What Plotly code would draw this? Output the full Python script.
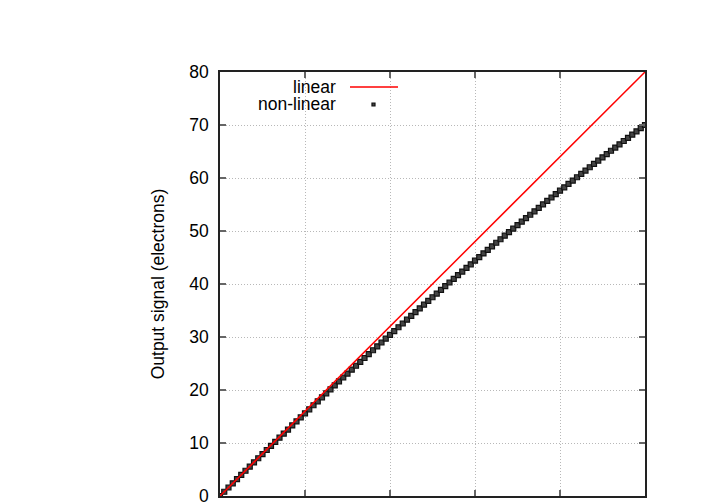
import plotly.graph_objects as go

# Input signal levels (x) and the two series
input_signal = [0, 1, 2, 3, 4, 5, 6, 7, 8, 9, 10, 11, 12, 13, 14, 15, 16, 17, 18, 19,
                20, 21, 22, 23, 24, 25, 26, 27, 28, 29, 30, 31, 32, 33, 34, 35, 36, 37, 38, 39,
                40, 41, 42, 43, 44, 45, 46, 47, 48, 49, 50, 51, 52, 53, 54, 55, 56, 57, 58, 59,
                60, 61, 62, 63, 64, 65, 66, 67, 68, 69, 70, 71, 72, 73, 74, 75, 76, 77, 78, 79,
                80, 81, 82, 83, 84, 85, 86, 87, 88, 89, 90, 91, 92, 93, 94, 95, 96, 97, 98, 99, 100]

nonlinear_output = [0.0, 0.8, 1.6, 2.39, 3.18, 3.98, 4.76, 5.55, 6.34, 7.12,
                    7.9, 8.68, 9.46, 10.23, 11.0, 11.78, 12.54, 13.31, 14.08, 14.84,
                    15.6, 16.36, 17.12, 17.87, 18.62, 19.38, 20.12, 20.87, 21.62, 22.36,
                    23.1, 23.84, 24.58, 25.31, 26.04, 26.78, 27.5, 28.23, 28.96, 29.68,
                    30.4, 31.12, 31.84, 32.55, 33.26, 33.98, 34.68, 35.39, 36.1, 36.8,
                    37.5, 38.2, 38.9, 39.59, 40.28, 40.98, 41.66, 42.35, 43.04, 43.72,
                    44.4, 45.08, 45.76, 46.43, 47.1, 47.78, 48.44, 49.11, 49.78, 50.44,
                    51.1, 51.76, 52.42, 53.07, 53.72, 54.38, 55.02, 55.67, 56.32, 56.96,
                    57.6, 58.24, 58.88, 59.51, 60.14, 60.78, 61.4, 62.03, 62.66, 63.28,
                    63.9, 64.52, 65.14, 65.75, 66.36, 66.98, 67.58, 68.19, 68.8, 69.4, 70.0]

linear_x = [0, 100]
linear_y = [0, 80]

y_ticks = [0, 10, 20, 30, 40, 50, 60, 70, 80]
x_ticks = [0, 20, 40, 60, 80, 100]

font = "Liberation Sans, Arial, sans-serif"
fs = 17.5

fig = go.Figure()
fig.add_trace(go.Scatter(
    x=input_signal, y=nonlinear_output, mode="markers", name="non-linear",
    marker=dict(symbol="square", size=5, color="#444444", line=dict(width=1.2, color="#111111")),
    showlegend=False,
))
fig.add_trace(go.Scatter(
    x=linear_x, y=linear_y, mode="lines", name="linear",
    line=dict(color="#ff0000", width=1.5), showlegend=False,
))

axis_common = dict(
    showline=True, linecolor="#222222", linewidth=1.5, mirror="allticks",
    ticks="inside", ticklen=6, tickwidth=1.5, tickcolor="#666666",
    showgrid=True, gridcolor="#b8b8b8", griddash="1px,2px", gridwidth=1,
    zeroline=False,
)

fig.update_xaxes(range=[0, 100], tickvals=x_ticks, showticklabels=False, **axis_common)
fig.update_yaxes(range=[0, 80], tickvals=y_ticks,
                 tickfont=dict(family=font, size=fs, color="black"),
                 ticklabelstandoff=6,
                 title=dict(text="Output signal (electrons)", font=dict(family=font, size=fs, color="black"),
                            standoff=20),
                 **axis_common)

# gnuplot-style key (text left, sample right)
fig.add_annotation(x=0.2776, y=0.9646, xref="paper", yref="paper", text="linear",
                   showarrow=False, xanchor="right", yanchor="middle",
                   font=dict(family=font, size=fs, color="black"))
fig.add_annotation(x=0.2776, y=0.9245, xref="paper", yref="paper", text="non-linear",
                   showarrow=False, xanchor="right", yanchor="middle",
                   font=dict(family=font, size=fs, color="black"))
fig.add_shape(type="line", xref="paper", yref="paper", x0=0.3059, x1=0.4188, y0=0.9646, y1=0.9646,
              line=dict(color="#ff0000", width=1.5))
fig.add_shape(type="rect", xref="paper", yref="paper", x0=0.3576, x1=0.3647, y0=0.9198, y1=0.9269,
              line=dict(color="#111111", width=1.2), fillcolor="#444444")

fig.update_layout(
    width=720, height=504,
    margin=dict(l=212, r=83, t=64, b=16, autoexpand=False),
    paper_bgcolor="white", plot_bgcolor="white",
    font=dict(family=font, size=fs, color="black"),
)

fig.write_html("out.html")
